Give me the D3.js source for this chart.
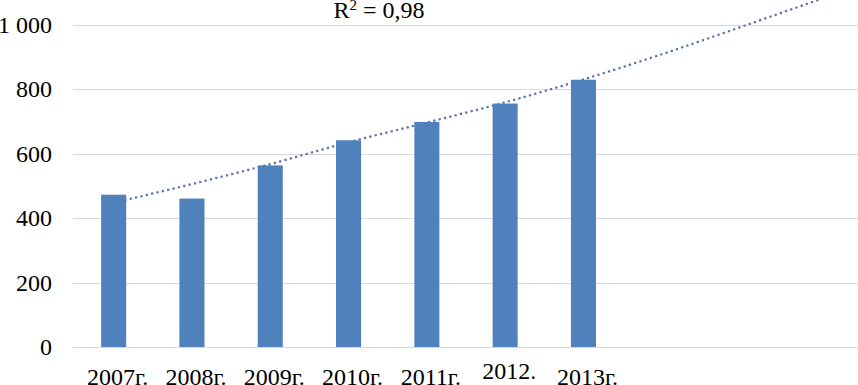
<!DOCTYPE html>
<meta charset="utf-8">
<style>
body { margin: 0; background: #fff; }
text { font-family: "Times New Roman", "Liberation Serif", Times, serif; fill: #000; }
.grid line { stroke: #d9d9d9; stroke-width: 1px; }
.trend { fill: none; stroke: #5470a8; stroke-width: 2.2px; stroke-dasharray: 2.2,3.3; }
</style>
<body>
<script src="https://d3js.org/d3.v7.min.js"></script>
<script>

// categories (last three are empty forecast slots for the trendline)
var years = ["2007г.", "2008г.", "2009г.", "2010г.", "2011г.", "2012.", "2013г.", "", "", ""];
var values = [473, 461, 564, 642, 699, 756, 830];
var trend = [448, 506, 568, 636, 697, 760, 831, 909, 993, 1078];
var yTicks = [0, 200, 400, 600, 800, 1000];
var r2Label = "0,98";

var width = 858, height = 385;

var svg = d3.select("body").append("svg")
    .attr("width", width)
    .attr("height", height);

// set the ranges
var x = d3.scaleBand()
    .domain(d3.range(years.length))
    .range([74.5, 857.5])
    .paddingInner(0.68)
    .paddingOuter(0.34);
var y = d3.scaleLinear().domain([0, 1000]).range([347, 25]);

// gridlines
svg.append("g")
    .attr("class", "grid")
  .selectAll("line")
    .data(yTicks)
  .enter().append("line")
    .attr("x1", 73)
    .attr("x2", width)
    .attr("y1", function(d) { return Math.round(y(d)) + 0.5; })
    .attr("y2", function(d) { return Math.round(y(d)) + 0.5; });

// y labels
var fmt = function(d) { return d >= 1000 ? d3.format(",")(d).replace(",", " ") : d; };
svg.append("g")
  .selectAll("text")
    .data(yTicks)
  .enter().append("text")
    .attr("x", 52)
    .attr("y", function(d) { return y(d) + 8; })
    .attr("text-anchor", "end")
    .style("font-size", "24px")
    .text(fmt);

// trendline, drawn behind the bars
var line = d3.line()
    .x(function(d, i) { return x(i) + x.bandwidth() / 2; })
    .y(function(d) { return y(d); })
    .curve(d3.curveMonotoneX);

svg.append("path")
    .datum(trend)
    .attr("class", "trend")
    .attr("d", line);

// bars
svg.selectAll(".bar")
    .data(values)
  .enter().append("rect")
    .attr("class", "bar")
    .attr("x", function(d, i) { return x(i); })
    .attr("width", x.bandwidth())
    .attr("y", function(d) { return y(d); })
    .attr("height", function(d) { return y(0) - y(d); })
    .attr("fill", "#4f81bd");

// x labels
svg.append("g")
  .selectAll("text")
    .data(years)
  .enter().append("text")
    .attr("x", function(d, i) { return x(i) + x.bandwidth() / 2 + 4; })
    .attr("y", function(d) { return d === "2012." ? 379 : 385; })
    .attr("text-anchor", "middle")
    .style("font-size", "24px")
    .text(function(d) { return d; });

// R² label
var r2 = svg.append("text")
    .attr("x", 379)
    .attr("y", 18)
    .attr("text-anchor", "middle")
    .style("font-size", "24px");
r2.append("tspan").text("R");
r2.append("tspan").attr("dy", -8).style("font-size", "15px").text("2");
r2.append("tspan").attr("dy", 8).text(" = " + r2Label);

</script>
</body>
